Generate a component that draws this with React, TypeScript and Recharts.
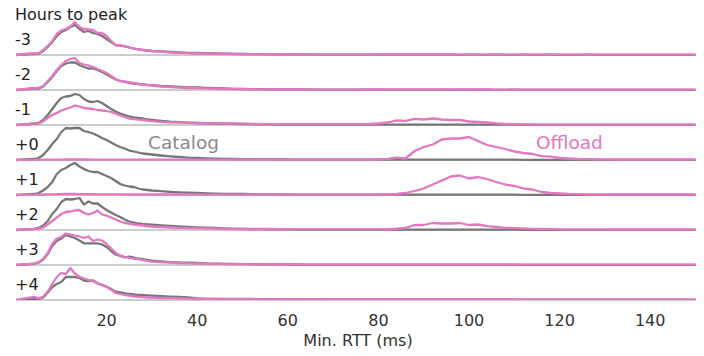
import React from 'react';
import { ComposedChart, Line, XAxis, YAxis, ReferenceLine, Label } from 'recharts';

// Min. RTT bins (ms)
const rtt = [
  0, 1, 2, 3, 4, 5, 6, 7, 8, 9, 10, 11, 12, 13, 14, 15, 16, 17, 18, 19, 20, 21, 22, 23, 24, 25, 26, 27, 28, 29, 30,
  32, 34, 36, 38, 40, 42, 44, 46, 48, 50, 52, 54, 56, 58, 60, 62, 64, 66, 68, 70, 72, 74, 76, 78, 80, 82, 84, 86, 88, 90,
  92, 94, 96, 98, 100, 102, 104, 106, 108, 110, 112, 114, 116, 118, 120, 122, 124, 126, 128, 130, 132, 134, 136, 138, 140, 142, 144, 146, 148, 150,
];

const rowLabels = ['-3', '-2', '-1', '+0', '+1', '+2', '+3', '+4'];
const xTicks = [20, 40, 60, 80, 100, 120, 140];

// Catalog series (gray)
const catalogM3 = [
  0, 0.3, 0.5, 0.8, 1, 1.2, 4, 8, 13, 19, 23, 25, 28, 30, 26, 23, 24, 22, 21, 19, 16, 13, 10, 9.5, 8.5, 7.5, 6.5, 5.5, 5, 4.5, 4,
  3.5, 3, 2.5, 2.2, 2, 1.8, 1.6, 1.4, 1.2, 1, 0.9, 0.8, 0.7, 0.8, 0.6, 0.5, 0.5, 0.4, 0.4, 0.4, 0.3, 0.3, 0.3, 0.3, 0.3, 0.3, 0.3, 0.3, 0.3, 0.3,
  0.3, 0.3, 0.3, 0.2, 0.3, 0.3, 0.2, 0.3, 0.2, 0.2, 0.3, 0.2, 0.2, 0.3, 0.2, 0.2, 0.2, 0.3, 0.2, 0.2, 0.2, 0.2, 0.2, 0.2, 0.2, 0.2, 0.2, 0.2, 0.2, 0.2,
];
const catalogM2 = [
  0, 0.3, 0.7, 1, 1.3, 1.5, 3.5, 8, 13, 19, 24, 26.5, 27.5, 27.5, 25, 23, 21.5, 21.5, 20, 18, 15.5, 13, 10.5, 9, 8, 7, 6.5, 6, 5.5, 5, 4.8,
  4, 3.5, 3, 2.7, 2.5, 2.2, 1.8, 1.5, 1.2, 1, 0.9, 0.8, 0.7, 0.6, 0.6, 0.5, 0.5, 0.4, 0.4, 0.4, 0.4, 0.3, 0.3, 0.3, 0.3, 0.3, 0.3, 0.3, 0.3, 0.3,
  0.3, 0.3, 0.2, 0.3, 0.3, 0.2, 0.3, 0.2, 0.2, 0.3, 0.2, 0.2, 0.2, 0.2, 0.2, 0.2, 0.2, 0.2, 0.2, 0.2, 0.2, 0.2, 0.2, 0.2, 0.2, 0.2, 0.2, 0.2, 0.2, 0.2,
];
const catalogM1 = [
  0, 0.3, 0.6, 1, 1.5, 2, 5, 10, 16, 22, 27, 28.5, 29, 31, 30, 26, 23.5, 23, 24, 22, 19, 16, 13.5, 11.5, 10, 8.5, 7.7, 7, 6.5, 5.5, 5,
  4.2, 3.3, 2.8, 2.3, 2, 1.7, 1.5, 1.3, 1.1, 1, 0.8, 0.7, 0.6, 0.5, 0.5, 0.4, 0.4, 0.4, 0.3, 0.3, 0.3, 0.3, 0.3, 0.3, 0.3, 0.3, 0.3, 0.3, 0.3, 0.3,
  0.3, 0.3, 0.3, 0.3, 0.3, 0.3, 0.3, 0.3, 0.3, 0.3, 0.2, 0.2, 0.2, 0.2, 0.2, 0.2, 0.2, 0.2, 0.2, 0.2, 0.2, 0.2, 0.2, 0.2, 0.2, 0.2, 0.2, 0.2, 0.2, 0.2,
];
const catalogP0 = [
  0, 0.3, 0.6, 0.8, 1, 2, 5, 10, 16, 21, 28, 32, 31.5, 32, 32, 29, 28, 26.5, 24.5, 22, 20, 17.5, 15, 13, 11.5, 9.5, 8.5, 7.5, 6.5, 6, 5.5,
  4.5, 3.7, 3, 2.3, 2, 1.7, 1.4, 1.2, 1, 0.9, 0.8, 0.7, 0.6, 0.5, 0.5, 0.4, 0.4, 0.4, 0.3, 0.3, 0.3, 0.3, 0.3, 0.3, 0.3, 0.3, 0.3, 0.3, 0.3, 0.3,
  0.3, 0.3, 0.3, 0.3, 0.3, 0.3, 0.3, 0.3, 0.3, 0.3, 0.2, 0.2, 0.2, 0.2, 0.2, 0.2, 0.2, 0.2, 0.2, 0.2, 0.2, 0.2, 0.2, 0.2, 0.2, 0.2, 0.2, 0.2, 0.2, 0.2,
];
const catalogP1 = [
  0, 0.3, 0.5, 0.8, 1, 2, 4.5, 8, 13, 21, 25, 27, 30, 32, 28.5, 26, 24, 23, 23, 21, 19, 17, 14, 11, 9.5, 8.5, 8, 6.5, 5.5, 5, 4.5,
  3.8, 3.2, 2.7, 2.3, 2, 1.6, 1.4, 1.2, 1.1, 1, 0.8, 0.7, 0.6, 0.5, 0.5, 0.4, 0.4, 0.4, 0.3, 0.3, 0.3, 0.3, 0.3, 0.3, 0.3, 0.3, 0.3, 0.3, 0.3, 0.3,
  0.3, 0.3, 0.3, 0.3, 0.3, 0.3, 0.3, 0.3, 0.3, 0.3, 0.2, 0.2, 0.2, 0.2, 0.2, 0.2, 0.2, 0.2, 0.2, 0.2, 0.2, 0.2, 0.2, 0.2, 0.2, 0.2, 0.2, 0.2, 0.2, 0.2,
];
const catalogP2 = [
  0, 0.3, 0.6, 0.9, 1.2, 2, 4.5, 9, 16, 21, 28, 31, 30.5, 31, 32, 25.5, 28.5, 26.5, 26.5, 23, 20, 17.5, 15, 13, 10.5, 8.5, 7.5, 6.5, 6, 5.7, 5.3,
  4.7, 4.2, 3.6, 3.2, 2.7, 2.3, 2, 1.5, 1.2, 1, 0.9, 0.8, 0.7, 0.7, 0.6, 0.5, 0.5, 0.4, 0.4, 0.4, 0.3, 0.3, 0.3, 0.3, 0.3, 0.3, 0.3, 0.3, 0.3, 0.3,
  0.3, 0.3, 0.3, 0.3, 0.3, 0.3, 0.3, 0.3, 0.3, 0.3, 0.2, 0.2, 0.2, 0.2, 0.2, 0.2, 0.2, 0.2, 0.2, 0.2, 0.2, 0.2, 0.2, 0.2, 0.2, 0.2, 0.2, 0.2, 0.2, 0.2,
];
const catalogP3 = [
  0, 0.3, 0.5, 0.8, 1.2, 2.5, 5.5, 11, 19, 24, 26.5, 30, 28.5, 27, 24.5, 21.7, 21.7, 21.7, 21.7, 20.5, 18, 14, 10.5, 9, 7.7, 8.3, 7.5, 6.5, 5.8, 5, 4.3,
  3.6, 2.9, 2.5, 2.4, 2.2, 1.6, 1.3, 1.1, 1, 0.9, 0.8, 0.7, 0.6, 0.6, 0.5, 0.5, 0.4, 0.4, 0.4, 0.4, 0.3, 0.3, 0.3, 0.3, 0.3, 0.3, 0.3, 0.3, 0.3, 0.3,
  0.3, 0.3, 0.3, 0.3, 0.3, 0.3, 0.3, 0.3, 0.3, 0.3, 0.2, 0.2, 0.2, 0.2, 0.2, 0.2, 0.2, 0.2, 0.2, 0.2, 0.2, 0.2, 0.2, 0.2, 0.2, 0.2, 0.2, 0.2, 0.2, 0.2,
];
const catalogP4 = [
  0, 0.3, 0.6, 1, 1.5, 1.1, 2.5, 7.5, 13, 16, 18, 23, 23, 23, 22, 19.5, 19, 19.5, 16.7, 15, 13.3, 11, 8.3, 7.5, 6.7, 6, 5.5, 5.2, 5, 4.6, 4.3,
  3.8, 3.4, 3, 2.7, 1.5, 1.1, 1, 1, 1, 1, 1, 0.9, 0.8, 0.7, 0.6, 0.6, 0.5, 0.5, 0.5, 0.4, 0.4, 0.4, 0.4, 0.4, 0.4, 0.4, 0.4, 0.4, 0.4, 0.4,
  0.4, 0.4, 0.4, 0.4, 0.4, 0.4, 0.4, 0.4, 0.4, 0.4, 0.3, 0.3, 0.3, 0.3, 0.3, 0.3, 0.3, 0.3, 0.3, 0.3, 0.3, 0.3, 0.3, 0.3, 0.3, 0.3, 0.3, 0.3, 0.3, 0.3,
];

// Offload series (pink)
const offloadM3 = [
  0, 0.5, 1, 1.5, 1.7, 1.5, 5, 9, 14, 21, 24.5, 26, 28.5, 33, 28, 26, 25.5, 25, 22, 22, 19, 14, 10, 9.5, 9, 7.5, 6.5, 5.5, 5, 4.5, 4,
  3.3, 2.7, 2.2, 1.8, 1.5, 1.3, 1.2, 1.1, 1, 0.9, 0.8, 0.7, 0.6, 0.6, 0.5, 0.5, 0.4, 0.4, 0.4, 0.4, 0.4, 0.4, 0.4, 0.4, 0.5, 0.5, 0.5, 0.5, 0.5, 0.5,
  0.5, 0.5, 0.5, 0.4, 0.4, 0.4, 0.4, 0.4, 0.4, 0.3, 0.3, 0.3, 0.3, 0.3, 0.3, 0.3, 0.3, 0.3, 0.3, 0.3, 0.3, 0.3, 0.3, 0.3, 0.3, 0.3, 0.3, 0.3, 0.3, 0.3,
];
const offloadM2 = [
  0, 0.5, 1, 1.5, 1.8, 2, 4, 9, 14, 20, 25, 29, 31, 32, 27, 25.5, 24.5, 23, 21, 19, 17, 14, 11, 9, 8.5, 7.7, 7, 6.2, 5.7, 5, 4.3,
  3.5, 2.8, 2.4, 2, 1.8, 1.6, 1.4, 1.2, 1, 0.9, 0.8, 0.7, 0.6, 0.5, 0.5, 0.5, 0.4, 0.4, 0.4, 0.4, 0.4, 0.4, 0.4, 0.5, 0.5, 0.6, 0.6, 0.6, 0.7, 0.7,
  0.6, 0.6, 0.6, 0.5, 0.5, 0.5, 0.5, 0.4, 0.4, 0.4, 0.4, 0.3, 0.3, 0.3, 0.3, 0.3, 0.3, 0.3, 0.3, 0.3, 0.3, 0.3, 0.3, 0.3, 0.3, 0.3, 0.3, 0.3, 0.3, 0.3,
];
const offloadM1 = [
  0, 0.3, 0.6, 1, 1.2, 1.5, 3.5, 7, 10, 12, 14.5, 16, 17.5, 19.5, 18.5, 17, 16.5, 16, 15, 14.5, 14, 13, 11.5, 9.5, 8, 6.5, 5.8, 5.3, 5, 4.3, 3.8,
  3.2, 2.7, 2.4, 2.2, 2, 1.8, 1.7, 1.6, 1.5, 1.4, 1.1, 0.9, 0.8, 0.8, 0.8, 0.8, 0.8, 0.8, 0.8, 0.8, 0.8, 0.8, 0.9, 1, 1.5, 2.5, 4.5, 4.2, 6.2, 5.5,
  6.5, 5.5, 5, 5, 3.5, 3, 2.5, 1.7, 1.2, 0.8, 0.6, 0.5, 0.4, 0.4, 0.4, 0.3, 0.3, 0.3, 0.3, 0.3, 0.3, 0.3, 0.3, 0.3, 0.3, 0.3, 0.3, 0.3, 0.3, 0.3,
];
const offloadP0 = [
  0, 0.1, 0.2, 0.2, 0.2, 0.2, 0.3, 0.3, 0.3, 0.4, 0.4, 0.5, 0.5, 0.5, 0.5, 0.5, 0.5, 0.4, 0.4, 0.4, 0.4, 0.4, 0.4, 0.3, 0.3, 0.3, 0.3, 0.3, 0.3, 0.3, 0.3,
  0.3, 0.3, 0.3, 0.3, 0.3, 0.3, 0.3, 0.3, 0.3, 0.3, 0.3, 0.3, 0.3, 0.3, 0.3, 0.3, 0.3, 0.3, 0.3, 0.3, 0.3, 0.3, 0.3, 0.5, 0.7, 1, 2.3, 1.5, 9, 13,
  15.5, 20.5, 21.5, 21.5, 23, 19, 15, 13, 11, 8.5, 7, 6, 3.8, 3.3, 2, 1.5, 1, 0.8, 0.7, 0.6, 0.5, 0.5, 0.5, 0.5, 0.5, 0.5, 0.5, 0.5, 0.5, 0.5,
];
const offloadP1 = [
  0, 0.1, 0.2, 0.3, 0.3, 0.4, 0.5, 0.6, 0.7, 0.8, 0.9, 1, 1, 1, 0.9, 0.9, 0.8, 0.8, 0.7, 0.7, 0.7, 0.6, 0.6, 0.6, 0.5, 0.5, 0.5, 0.5, 0.5, 0.5, 0.5,
  0.5, 0.5, 0.5, 0.5, 0.4, 0.4, 0.4, 0.4, 0.4, 0.4, 0.4, 0.4, 0.4, 0.4, 0.4, 0.4, 0.4, 0.4, 0.4, 0.4, 0.4, 0.4, 0.4, 0.4, 0.5, 0.7, 1.2, 2, 4, 6.5,
  10.5, 14.5, 18.5, 19.5, 16.5, 18, 16, 13, 10.5, 9, 6.7, 5.5, 3, 2, 1.5, 1, 0.8, 0.7, 0.6, 0.6, 0.5, 0.5, 0.5, 0.5, 0.5, 0.5, 0.5, 0.5, 0.5, 0.5,
];
const offloadP2 = [
  0, 0.3, 0.5, 0.7, 1, 1.3, 2.5, 5.5, 9, 12.5, 16, 18, 18.5, 19.5, 20, 17, 15.7, 17, 19.5, 15.5, 14.3, 12.5, 10.5, 8.5, 7, 6.3, 5.5, 5, 4.5, 4, 3.5,
  3, 2.5, 2.2, 2, 1.8, 1.6, 1.4, 1.3, 1.2, 1.1, 1, 1, 1, 0.9, 0.9, 0.9, 0.9, 0.9, 0.9, 0.9, 0.9, 0.9, 0.8, 0.8, 0.8, 0.8, 1.3, 2.2, 5, 5,
  7, 6.5, 6.5, 7, 5, 5.5, 3.8, 3, 2.2, 1.9, 1.6, 1.2, 0.9, 0.8, 0.7, 0.7, 0.6, 0.6, 0.6, 0.6, 0.5, 0.5, 0.5, 0.5, 0.5, 0.5, 0.5, 0.5, 0.5, 0.5,
];
const offloadP3 = [
  0, 0.7, 0.8, 1, 1.5, 2.8, 6, 12, 21, 26.5, 28, 31.5, 30.5, 29.5, 28.5, 27, 28.5, 24, 25.5, 24.5, 21, 16.7, 12, 9.5, 8.2, 7.2, 6.5, 5.8, 5, 4.2, 3.4,
  2.9, 2.4, 2, 1.7, 1.5, 1.3, 1.1, 1, 0.9, 0.8, 0.7, 0.6, 0.6, 0.5, 0.5, 0.5, 0.4, 0.4, 0.4, 0.4, 0.4, 0.4, 0.4, 0.4, 0.4, 0.4, 0.4, 0.4, 0.4, 0.4,
  0.4, 0.4, 0.4, 0.4, 0.4, 0.4, 0.4, 0.4, 0.4, 0.4, 0.3, 0.3, 0.3, 0.3, 0.3, 0.3, 0.3, 0.3, 0.3, 0.3, 0.3, 0.3, 0.3, 0.3, 0.3, 0.3, 0.3, 0.3, 0.3, 0.3,
];
const offloadP4 = [
  0, 1, 1.6, 2.3, 3.2, 1.5, 3.5, 8.5, 16, 23, 27, 26, 32, 26.5, 23.3, 21.5, 20, 18.8, 16.5, 15, 13, 10.5, 7, 6, 5, 4.3, 3.6, 3.2, 2.8, 2.5, 2.3,
  2, 1.8, 1.6, 1.4, 1.2, 1.1, 1, 0.9, 0.9, 0.8, 0.8, 0.7, 0.7, 0.6, 0.6, 0.6, 0.5, 0.5, 0.5, 0.5, 0.5, 0.5, 0.5, 0.5, 0.5, 0.5, 0.5, 0.5, 0.5, 0.5,
  0.5, 0.5, 0.5, 0.5, 0.5, 0.5, 0.5, 0.5, 0.5, 0.5, 0.4, 0.4, 0.4, 0.4, 0.4, 0.4, 0.4, 0.4, 0.4, 0.4, 0.4, 0.4, 0.4, 0.4, 0.4, 0.4, 0.4, 0.4, 0.4, 0.4,
];

const catalogRows = [catalogM3, catalogM2, catalogM1, catalogP0, catalogP1, catalogP2, catalogP3, catalogP4];
const offloadRows = [offloadM3, offloadM2, offloadM1, offloadP0, offloadP1, offloadP2, offloadP3, offloadP4];

const ROW_GAP = 35;
const rowBase = (k: number) => (rowLabels.length - 1 - k) * ROW_GAP;

const tableData = rtt.map((x, i) => {
  const row: Record<string, number> = { rtt: x };
  rowLabels.forEach((_, k) => {
    row['c' + k] = (catalogRows[k][i] ?? 0) + rowBase(k);
    row['o' + k] = (offloadRows[k][i] ?? 0) + rowBase(k);
  });
  return row;
});

const GRAY = '#777777';
const PINK = '#e377c2';
const FONT = '"DejaVu Sans", sans-serif';

export default function App() {
  return (
    <div style={{ position: 'relative', width: 696, height: 348, fontFamily: FONT }}>
      <ComposedChart
        width={696}
        height={348}
        data={tableData}
        margin={{ top: 2, right: 4, bottom: 0, left: 8 }}
      >
        <XAxis
          dataKey="rtt"
          type="number"
          domain={[0, 151]}
          ticks={xTicks}
          interval={0}
          axisLine={false}
          tickLine={false}
          tickMargin={9}
          height={56}
          tick={{ fontSize: 16, fill: '#333', fontFamily: FONT }}
        >
          <Label
            value="Min. RTT (ms)"
            position="insideBottom"
            offset={10}
            style={{ fontSize: 16, fill: '#333', fontFamily: FONT }}
          />
        </XAxis>
        <YAxis hide type="number" domain={[0, 290]} allowDataOverflow />
        {rowLabels.map((lab, k) => (
          <ReferenceLine
            key={'ref' + k}
            y={rowBase(k)}
            stroke="#999999"
            strokeWidth={1.2}
            label={(props: any) => (
              <text
                x={props.viewBox.x - 1}
                y={props.viewBox.y - 10}
                fontSize={16}
                fill="#222"
                fontFamily={FONT}
              >
                {lab}
              </text>
            )}
          />
        ))}
        {rowLabels.map((_, k) => (
          <Line
            key={'c' + k}
            dataKey={'c' + k}
            type="linear"
            stroke={GRAY}
            strokeWidth={2.3}
            strokeLinejoin="round"
            dot={false}
            activeDot={false}
            isAnimationActive={false}
          />
        ))}
        {rowLabels.map((_, k) => (
          <Line
            key={'o' + k}
            dataKey={'o' + k}
            type="linear"
            stroke={PINK}
            strokeWidth={2.3}
            strokeLinejoin="round"
            dot={false}
            activeDot={false}
            isAnimationActive={false}
          />
        ))}
      </ComposedChart>
      <svg
        width={704}
        height={356}
        style={{ position: 'absolute', left: -8, top: -8, pointerEvents: 'none', overflow: 'visible' }}
      >
        <text x={15} y={19.5} fontSize={16} fill="#222" fontFamily={FONT}>
          Hours to peak
        </text>
        <text x={148} y={148.5} fontSize={18.5} fill="#8a8a8a" fontFamily={FONT}>
          Catalog
        </text>
        <text x={536} y={148.5} fontSize={18.5} fill={PINK} fontFamily={FONT}>
          Offload
        </text>
      </svg>
    </div>
  );
}
